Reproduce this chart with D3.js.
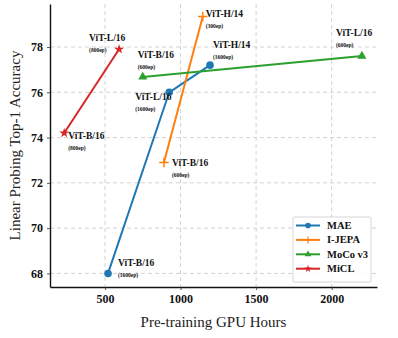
<!DOCTYPE html>
<html>
<head>
<meta charset="utf-8">
<script src="https://cdn.jsdelivr.net/npm/d3@7"></script>
<style>
  body { margin: 0; background: #fff; }
  text { font-family: "Liberation Serif", "Times New Roman", serif; }
</style>
</head>
<body>
<div id="chart"></div>
<script>
// series data
var methods = ["MAE", "I-JEPA", "MoCo v3", "MiCL"];
var colors = ["#1f77b4", "#ff7f0e", "#2ca02c", "#d62728"];
var markers = ["circle", "plus", "triangle", "star"];

var gpuHours = [
  [520, 925, 1195],
  [890, 1147],
  [750, 2200],
  [230, 593]
];
var accuracy = [
  [68.0, 76.0, 77.2],
  [72.9, 79.35],
  [76.68, 77.6],
  [74.2, 77.9]
];
var modelNames = [
  ["ViT-B/16", "ViT-L/16", "ViT-H/14"],
  ["ViT-B/16", "ViT-H/14"],
  ["ViT-B/16", "ViT-L/16"],
  ["ViT-B/16", "ViT-L/16"]
];
var epochs = [
  ["(1600ep)", "(1600ep)", "(1600ep)"],
  ["(600ep)", "(300ep)"],
  ["(600ep)", "(600ep)"],
  ["(800ep)", "(800ep)"]
];
var xTicks = [500, 1000, 1500, 2000];
var yTicks = [68, 70, 72, 74, 76, 78];

// label offsets (px) from each point: [dx, dy of name baseline]
var labelOffsets = [
  [[10, -7], [-34, 8], [3, -17]],
  [[8, 4], [3, 1]],
  [[-5, -19], [-26, -20]],
  [[4, 6], [-30, -8]]
];

var W = 398, H = 338;
var margin = {top: 4, right: 21, bottom: 51, left: 50};
var width = W - margin.left - margin.right,
    height = H - margin.top - margin.bottom;

var svg = d3.select("#chart").append("svg")
    .attr("width", W).attr("height", H)
  .append("g")
    .attr("transform", "translate(" + margin.left + "," + margin.top + ")");

var x = d3.scaleLinear().domain([136, 2300]).range([0, width]);
var y = d3.scaleLinear().domain([67.4, 79.9]).range([height, 0]);

// grid
svg.append("g").selectAll("line").data(xTicks).enter().append("line")
  .attr("x1", d => x(d)).attr("x2", d => x(d))
  .attr("y1", 0).attr("y2", height)
  .attr("stroke", "#c8c8c8").attr("stroke-width", 0.8)
  .attr("stroke-dasharray", "4,3");
svg.append("g").selectAll("line").data(yTicks).enter().append("line")
  .attr("x1", 0).attr("x2", width)
  .attr("y1", d => y(d)).attr("y2", d => y(d))
  .attr("stroke", "#c8c8c8").attr("stroke-width", 0.8)
  .attr("stroke-dasharray", "4,3");

// axes
var xAxis = svg.append("g")
  .attr("transform", "translate(0," + height + ")")
  .call(d3.axisBottom(x).tickValues(xTicks).tickFormat(d3.format("d"))
    .tickSize(3).tickPadding(4).tickSizeOuter(0));
var yAxis = svg.append("g")
  .call(d3.axisLeft(y).tickValues(yTicks).tickFormat(d3.format("d"))
    .tickSize(3).tickPadding(4).tickSizeOuter(0));
[xAxis, yAxis].forEach(function(a) {
  a.select(".domain").attr("stroke", "#111").attr("stroke-width", 1.4);
  a.selectAll(".tick line").attr("stroke", "#333").attr("stroke-width", 0.8);
  a.selectAll(".tick text")
    .style("font-family", "Liberation Serif, serif")
    .style("font-size", "12px").style("font-weight", "bold").attr("fill", "#111");
});

// axis labels
svg.append("text")
  .attr("x", width / 2).attr("y", height + 40)
  .attr("text-anchor", "middle")
  .style("font-size", "15px").attr("fill", "#222")
  .text("Pre-training GPU Hours");
svg.append("text")
  .attr("transform", "rotate(-90)")
  .attr("x", -height / 2).attr("y", -30)
  .attr("text-anchor", "middle")
  .style("font-size", "15px").attr("fill", "#222")
  .text("Linear Probing Top-1 Accuracy");

function markerPath(type, size) {
  if (type === "circle") return d3.symbol().type(d3.symbolCircle).size(size)();
  if (type === "triangle") return d3.symbol().type(d3.symbolTriangle).size(size * 0.8)();
  if (type === "star") return d3.symbol().type(d3.symbolStar).size(size * 0.7)();
  var s = Math.sqrt(size) * 0.7;
  return "M" + (-s) + ",0H" + s + "M0," + (-s) + "V" + s;
}

var line = d3.line().x(d => x(d[0])).y(d => y(d[1]));

methods.forEach(function(m, i) {
  var pts = gpuHours[i].map((g, j) => [g, accuracy[i][j]]);
  var g = svg.append("g");
  g.append("path").datum(pts)
    .attr("d", line).attr("fill", "none")
    .attr("stroke", colors[i]).attr("stroke-width", 2);
  g.selectAll(".pt").data(pts).enter().append("path")
    .attr("transform", d => "translate(" + x(d[0]) + "," + y(d[1]) + ")")
    .attr("d", markerPath(markers[i], 45))
    .attr("fill", colors[i])
    .attr("stroke", colors[i])
    .attr("stroke-width", markers[i] === "plus" ? 1.5 : 0);
  pts.forEach(function(d, j) {
    var px = x(d[0]) + labelOffsets[i][j][0],
        py = y(d[1]) + labelOffsets[i][j][1];
    svg.append("text").attr("x", px).attr("y", py)
      .style("font-size", "9.5px").style("font-weight", "bold").attr("fill", "#111")
      .text(modelNames[i][j]);
    svg.append("text").attr("x", px).attr("y", py + 11)
      .style("font-size", "5.5px").style("font-weight", "bold").attr("fill", "#111")
      .text(epochs[i][j]);
  });
});

// legend
var lg = svg.append("g").attr("transform", "translate(" + (293 - margin.left) + "," + (217 - margin.top) + ")");
lg.append("rect").attr("width", 78).attr("height", 65).attr("rx", 2)
  .attr("fill", "#fff").attr("fill-opacity", 0.85)
  .attr("stroke", "#ccc").attr("stroke-width", 0.8);
methods.forEach(function(m, i) {
  var yy = 8.5 + i * 14.4;
  lg.append("line").attr("x1", 3).attr("x2", 27).attr("y1", yy).attr("y2", yy)
    .attr("stroke", colors[i]).attr("stroke-width", 2);
  lg.append("path").attr("transform", "translate(15," + yy + ")")
    .attr("d", markerPath(markers[i], 25))
    .attr("fill", colors[i]).attr("stroke", colors[i])
    .attr("stroke-width", markers[i] === "plus" ? 1.2 : 0);
  lg.append("text").attr("x", 34).attr("y", yy + 3.5)
    .style("font-size", "10.5px").style("font-weight", "bold").attr("fill", "#111")
    .text(m);
});
</script>
</body>
</html>
